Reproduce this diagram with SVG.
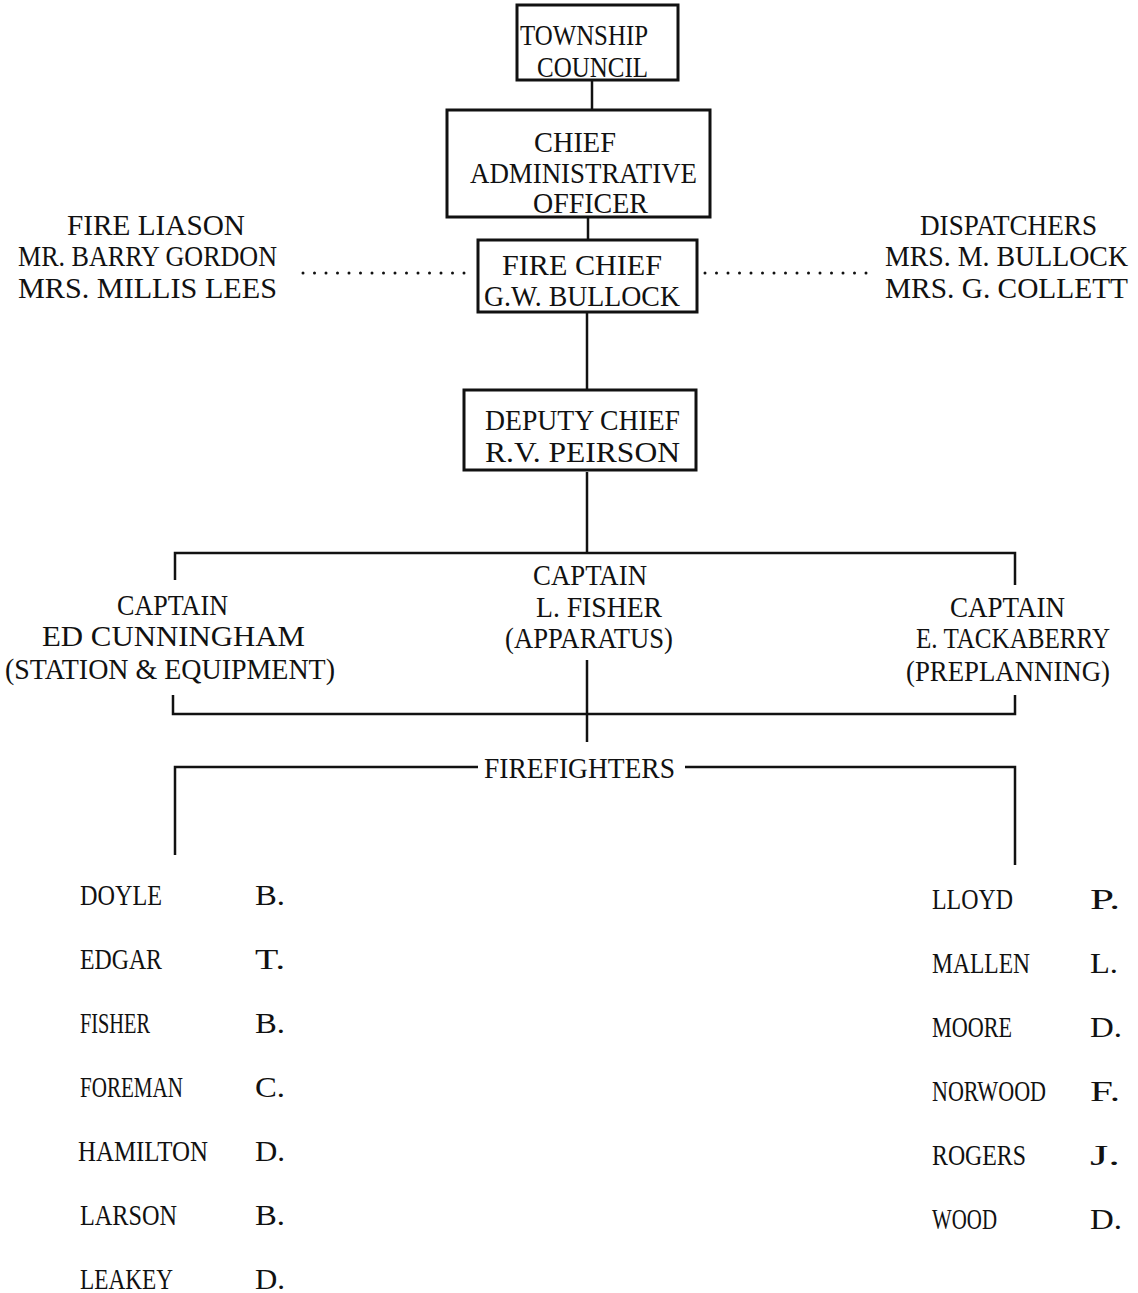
<svg xmlns="http://www.w3.org/2000/svg" width="1138" height="1293" viewBox="0 0 1138 1293">
<style>
text{font-family:"Liberation Serif","DejaVu Serif",serif;font-size:30px;fill:#111}
.box{fill:#fff;stroke:#111;stroke-width:3}
.ln{stroke:#111;stroke-width:2.5;fill:none}
.dot{stroke:#111;stroke-width:3;stroke-dasharray:0 11.5;stroke-linecap:round;fill:none}
</style>
<rect width="1138" height="1293" fill="#fff"/>
<g id="connectors">
<line class="ln" x1="592" y1="80" x2="592" y2="110"/>
<line class="ln" x1="588" y1="217" x2="588" y2="240"/>
<line class="dot" x1="303" y1="273" x2="472" y2="273"/>
<line class="dot" x1="705" y1="273" x2="868" y2="273"/>
<line class="ln" x1="587" y1="312" x2="587" y2="390"/>
<line class="ln" x1="587" y1="472" x2="587" y2="553"/>
<path class="ln" d="M175 580 V553 H1015 V585"/>
<path class="ln" d="M173 695 V714 H1015 V695"/>
<line class="ln" x1="587" y1="660" x2="587" y2="742"/>
<path class="ln" d="M175 855 V767 H478"/>
<path class="ln" d="M685 767 H1015 V865"/>
</g>
<g id="township-council">
<rect class="box" x="517" y="5" width="161" height="75"/>
<text x="520" y="45" textLength="128" lengthAdjust="spacingAndGlyphs">TOWNSHIP</text>
<text x="537" y="77" textLength="111" lengthAdjust="spacingAndGlyphs">COUNCIL</text>
</g>
<g id="cao">
<rect class="box" x="447" y="110" width="263" height="107"/>
<text x="534" y="152" textLength="82" lengthAdjust="spacingAndGlyphs">CHIEF</text>
<text x="470" y="183" textLength="227" lengthAdjust="spacingAndGlyphs">ADMINISTRATIVE</text>
<text x="533" y="213" textLength="115" lengthAdjust="spacingAndGlyphs">OFFICER</text>
</g>
<g id="fire-chief">
<rect class="box" x="478" y="240" width="219" height="72"/>
<text x="502" y="275" textLength="160" lengthAdjust="spacingAndGlyphs">FIRE CHIEF</text>
<text x="484" y="306" textLength="196" lengthAdjust="spacingAndGlyphs">G.W. BULLOCK</text>
</g>
<g id="fire-liason">
<text x="67" y="235" textLength="178" lengthAdjust="spacingAndGlyphs">FIRE LIASON</text>
<text x="18" y="266" textLength="259" lengthAdjust="spacingAndGlyphs">MR. BARRY GORDON</text>
<text x="18" y="298" textLength="259" lengthAdjust="spacingAndGlyphs">MRS. MILLIS LEES</text>
</g>
<g id="dispatchers">
<text x="920" y="235" textLength="177" lengthAdjust="spacingAndGlyphs">DISPATCHERS</text>
<text x="885" y="266" textLength="243" lengthAdjust="spacingAndGlyphs">MRS. M. BULLOCK</text>
<text x="885" y="298" textLength="243" lengthAdjust="spacingAndGlyphs">MRS. G. COLLETT</text>
</g>
<g id="deputy-chief">
<rect class="box" x="464" y="390" width="232" height="80"/>
<text x="485" y="430" textLength="195" lengthAdjust="spacingAndGlyphs">DEPUTY CHIEF</text>
<text x="485" y="462" textLength="195" lengthAdjust="spacingAndGlyphs">R.V. PEIRSON</text>
</g>
<g id="captain-fisher">
<text x="533" y="585" textLength="114" lengthAdjust="spacingAndGlyphs">CAPTAIN</text>
<text x="536" y="617" textLength="126" lengthAdjust="spacingAndGlyphs">L. FISHER</text>
<text x="505" y="648" textLength="168" lengthAdjust="spacingAndGlyphs">(APPARATUS)</text>
</g>
<g id="captain-cunningham">
<text x="117" y="615" textLength="111" lengthAdjust="spacingAndGlyphs">CAPTAIN</text>
<text x="42" y="646" textLength="263" lengthAdjust="spacingAndGlyphs">ED CUNNINGHAM</text>
<text x="5" y="679" textLength="330" lengthAdjust="spacingAndGlyphs">(STATION &amp; EQUIPMENT)</text>
</g>
<g id="captain-tackaberry">
<text x="950" y="617" textLength="115" lengthAdjust="spacingAndGlyphs">CAPTAIN</text>
<text x="916" y="648" textLength="194" lengthAdjust="spacingAndGlyphs">E. TACKABERRY</text>
<text x="906" y="681" textLength="204" lengthAdjust="spacingAndGlyphs">(PREPLANNING)</text>
</g>
<g id="firefighters">
<text x="484" y="778" textLength="191" lengthAdjust="spacingAndGlyphs">FIREFIGHTERS</text>
</g>
<g id="firefighters-left">
<text x="80" y="905" textLength="82" lengthAdjust="spacingAndGlyphs">DOYLE</text><text x="255" y="905" textLength="30" lengthAdjust="spacingAndGlyphs">B.</text>
<text x="80" y="969" textLength="82" lengthAdjust="spacingAndGlyphs">EDGAR</text><text x="255" y="969" textLength="30" lengthAdjust="spacingAndGlyphs">T.</text>
<text x="80" y="1033" textLength="70" lengthAdjust="spacingAndGlyphs">FISHER</text><text x="255" y="1033" textLength="30" lengthAdjust="spacingAndGlyphs">B.</text>
<text x="80" y="1097" textLength="103" lengthAdjust="spacingAndGlyphs">FOREMAN</text><text x="255" y="1097" textLength="30" lengthAdjust="spacingAndGlyphs">C.</text>
<text x="78" y="1161" textLength="130" lengthAdjust="spacingAndGlyphs">HAMILTON</text><text x="255" y="1161" textLength="30" lengthAdjust="spacingAndGlyphs">D.</text>
<text x="80" y="1225" textLength="97" lengthAdjust="spacingAndGlyphs">LARSON</text><text x="255" y="1225" textLength="30" lengthAdjust="spacingAndGlyphs">B.</text>
<text x="80" y="1289" textLength="93" lengthAdjust="spacingAndGlyphs">LEAKEY</text><text x="255" y="1289" textLength="30" lengthAdjust="spacingAndGlyphs">D.</text>
</g>
<g id="firefighters-right">
<text x="932" y="909" textLength="81" lengthAdjust="spacingAndGlyphs">LLOYD</text><text x="1090" y="909" textLength="30" lengthAdjust="spacingAndGlyphs">P.</text>
<text x="932" y="973" textLength="98" lengthAdjust="spacingAndGlyphs">MALLEN</text><text x="1090" y="973" textLength="28" lengthAdjust="spacingAndGlyphs">L.</text>
<text x="932" y="1037" textLength="80" lengthAdjust="spacingAndGlyphs">MOORE</text><text x="1090" y="1037" textLength="32" lengthAdjust="spacingAndGlyphs">D.</text>
<text x="932" y="1101" textLength="114" lengthAdjust="spacingAndGlyphs">NORWOOD</text><text x="1090" y="1101" textLength="30" lengthAdjust="spacingAndGlyphs">F.</text>
<text x="932" y="1165" textLength="94" lengthAdjust="spacingAndGlyphs">ROGERS</text><text x="1090" y="1165" textLength="30" lengthAdjust="spacingAndGlyphs">J.</text>
<text x="932" y="1229" textLength="65" lengthAdjust="spacingAndGlyphs">WOOD</text><text x="1090" y="1229" textLength="32" lengthAdjust="spacingAndGlyphs">D.</text>
</g>
</svg>
